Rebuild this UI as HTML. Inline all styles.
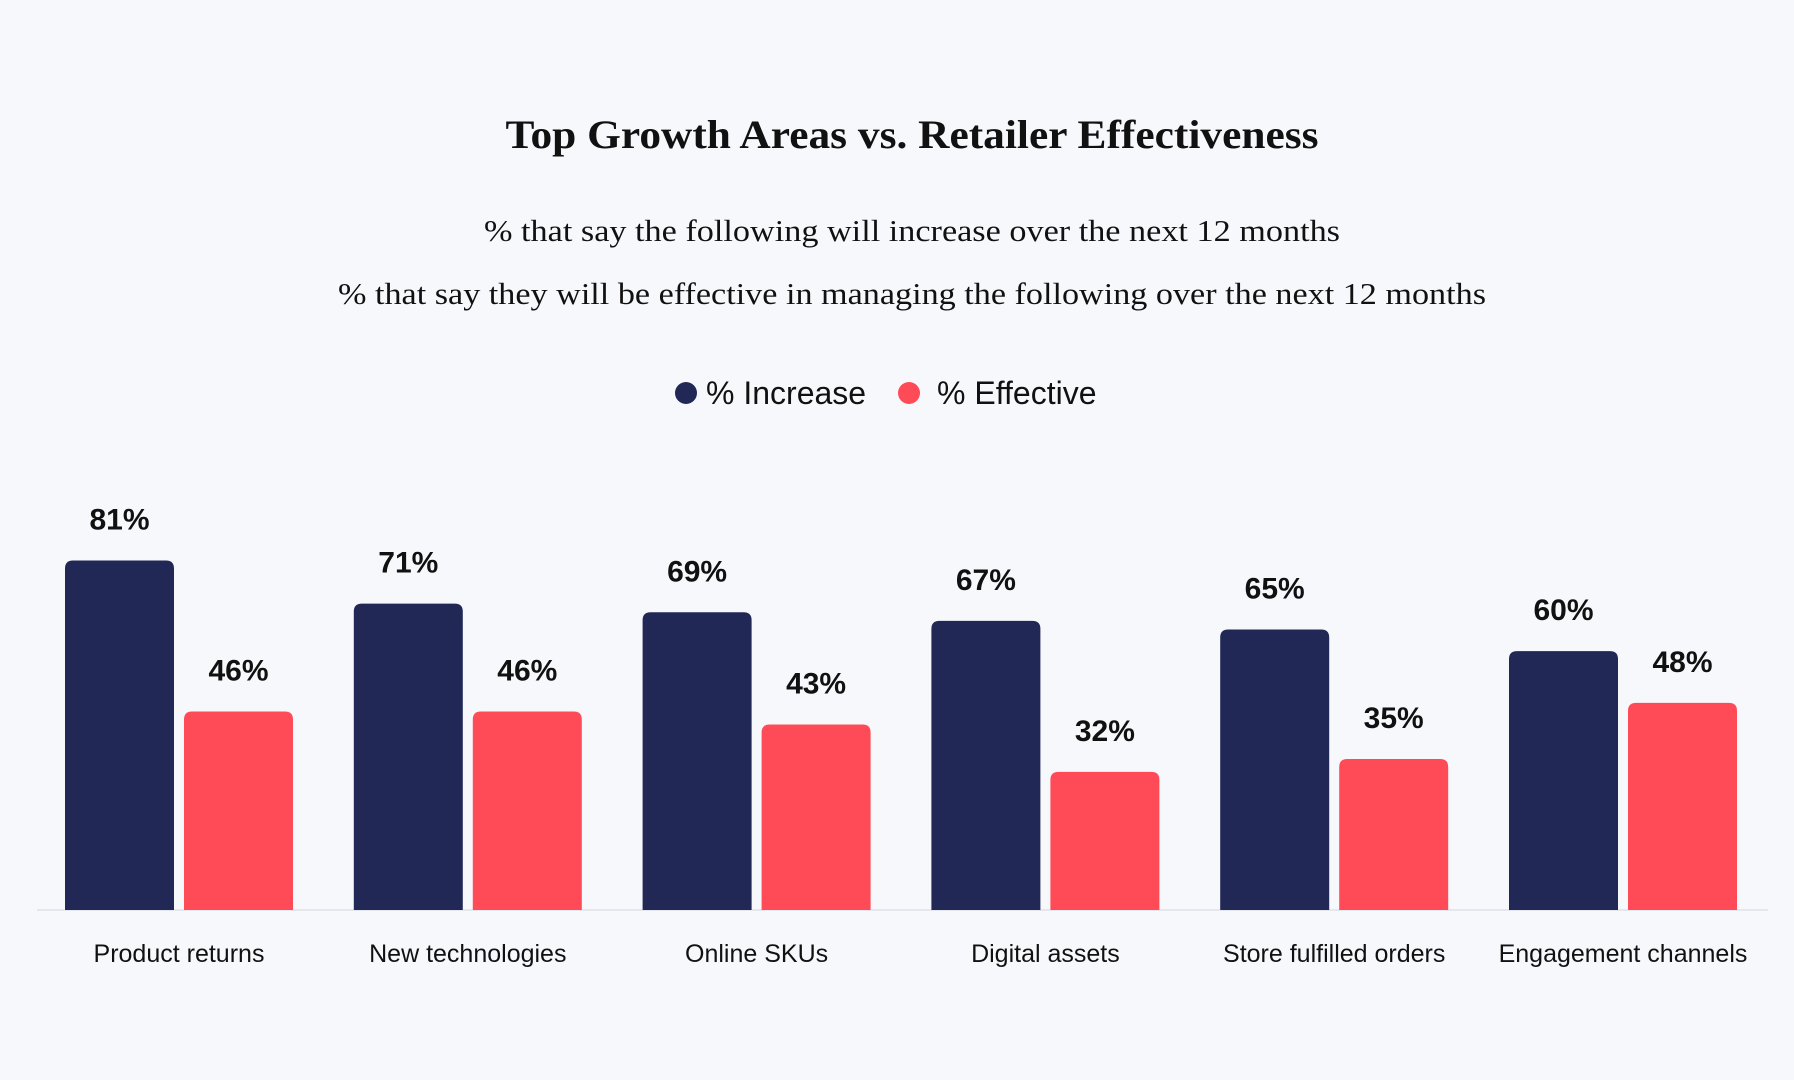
<!DOCTYPE html>
<html><head><meta charset="utf-8"><style>
html,body{margin:0;padding:0;background:#f7f8fc;}
svg{display:block}
</style></head><body>
<svg id="chart" width="1794" height="1080" viewBox="0 0 1794 1080" xmlns="http://www.w3.org/2000/svg">
<rect width="1794" height="1080" fill="#f7f8fc"/>
<text x="912" y="148" text-anchor="middle" textLength="813" lengthAdjust="spacingAndGlyphs" font-family="Liberation Serif, serif" font-weight="bold" font-size="40" fill="#111">Top Growth Areas vs. Retailer Effectiveness</text>
<text x="912" y="241" text-anchor="middle" textLength="856" lengthAdjust="spacingAndGlyphs" font-family="Liberation Serif, serif" font-size="31" fill="#111">% that say the following will increase over the next 12 months</text>
<text x="912" y="304" text-anchor="middle" textLength="1148" lengthAdjust="spacingAndGlyphs" font-family="Liberation Serif, serif" font-size="31" fill="#111">% that say they will be effective in managing the following over the next 12 months</text>
<g>
<g><circle cx="686" cy="393" r="11" fill="#212856"/><text x="706" y="404" font-family="Liberation Sans, sans-serif" font-size="32" fill="#111">% Increase</text></g>
<g><circle cx="909" cy="393" r="11" fill="#ff4b57"/><text x="937" y="404" font-family="Liberation Sans, sans-serif" font-size="32" fill="#111">% Effective</text></g>
</g>
<line x1="37" y1="910" x2="1768" y2="910" stroke="#e6e7ee" stroke-width="2"/>
<g id="bars"></g>
</svg>
<script>
const categories = ["Product returns","New technologies","Online SKUs","Digital assets","Store fulfilled orders","Engagement channels"];
const increaseValues = [81,71,69,67,65,60];
const effectiveValues = [46,46,43,32,35,48];

const baseY = 910, pxPer = 4.315, x0 = 65, step = 288.8, bw = 109, gap = 10, r = 8;
const yScale = v => baseY - v * pxPer;
const NS = "http://www.w3.org/2000/svg";
const g = document.getElementById("bars");
function bar(x, v, color, name){
  const t = yScale(v);
  const p = document.createElementNS(NS, "path");
  p.setAttribute("d", `M${x},${baseY} L${x},${t+r} Q${x},${t} ${x+r},${t} L${x+bw-r},${t} Q${x+bw},${t} ${x+bw},${t+r} L${x+bw},${baseY} Z`);
  p.setAttribute("fill", color);
  
  
  g.appendChild(p);
  const l = document.createElementNS(NS, "text");
  l.setAttribute("x", x + bw/2);
  l.setAttribute("y", t - 31);
  l.setAttribute("text-anchor", "middle");
  l.setAttribute("font-family", "Liberation Sans, sans-serif");
  l.setAttribute("font-weight", "bold");
  l.setAttribute("font-size", "30");
  l.setAttribute("fill", "#111");
  l.textContent = v + "%";
  
  
  g.appendChild(l);
}
categories.forEach((c, i) => {
  const x = x0 + i * step;
  bar(x, increaseValues[i], "#212856", "bar-increase-" + i);
  bar(x + bw + gap, effectiveValues[i], "#ff4b57", "bar-effective-" + i);
  const t = document.createElementNS(NS, "text");
  t.setAttribute("x", x + bw + gap/2);
  t.setAttribute("y", 962);
  t.setAttribute("text-anchor", "middle");
  t.setAttribute("font-family", "Liberation Sans, sans-serif");
  t.setAttribute("font-size", "25");
  t.setAttribute("fill", "#111");
  t.textContent = c;
  
  
  g.appendChild(t);
});
</script>
</body></html>
